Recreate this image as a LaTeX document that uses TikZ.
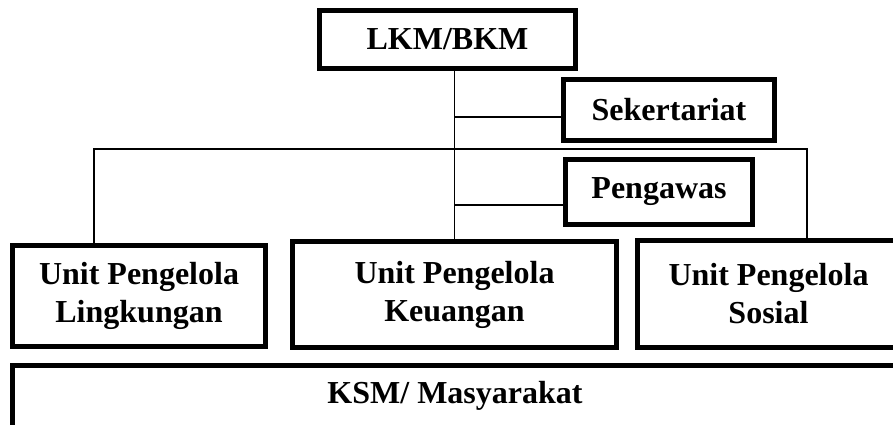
\documentclass[tikz,border=0pt]{standalone}
\usepackage{fontspec}
\setmainfont{Liberation Serif}
\begin{document}
\begin{tikzpicture}[x=1pt,y=-1pt,
  orgbox/.style={draw=black,line width=5pt,rectangle,inner sep=0pt,outer sep=0pt,
    align=center,font=\fontsize{32}{38}\selectfont\bfseries},
  link/.style={draw=black,line width=1.9pt}]
\useasboundingbox (0,0) rectangle (893,424);
\clip (0,0) rectangle (893,424);
\node[orgbox,minimum width=256pt,minimum height=58pt] (lkm) at (447.5,39.5) {LKM/BKM};
\node[orgbox,minimum width=211pt,minimum height=61pt] (sek) at (669,110) {Sekertariat};
\node[orgbox,minimum width=187pt,minimum height=65pt] (peng) at (659,192) {Pengawas};
\node[orgbox,minimum width=253pt,minimum height=101pt] (ling) at (139,296) {Unit Pengelola\\Lingkungan};
\node[orgbox,minimum width=324pt,minimum height=106pt] (keu) at (454.5,294.5) {Unit Pengelola\\Keuangan};
\node[orgbox,minimum width=262pt,minimum height=107pt] (sos) at (768.5,294) {Unit Pengelola\\Sosial};
\node[orgbox,minimum width=892.5pt,minimum height=80pt] (ksm) at (458.75,405.5) {};
\node[font=\fontsize{32}{38}\selectfont\bfseries,anchor=base,inner sep=0pt] (ksmtext) at (455,403) {KSM/ Masyarakat};
\coordinate (jsek) at (455,117);
\coordinate (jpeng) at (455,205);
\coordinate (bl) at (94,149);
\coordinate (br) at (807,149);
\draw[link] (lkm.south -| keu.north) -- (keu.north);
\draw[link] (jsek) -- (jsek -| sek.west);
\draw[link] (jpeng) -- (jpeng -| peng.west);
\draw[link] (ling.north -| bl) -- (bl) -- (br) -- (sos.north -| br);
\end{tikzpicture}
\end{document}
